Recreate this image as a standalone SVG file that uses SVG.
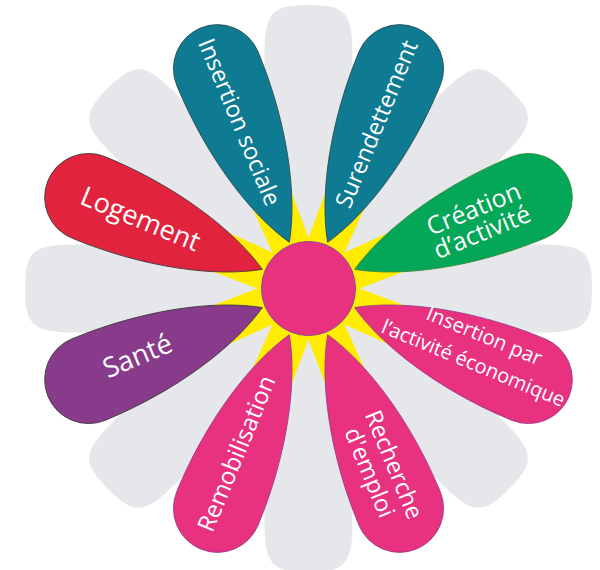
<svg xmlns="http://www.w3.org/2000/svg" width="600" height="570" viewBox="0 0 600 570">
<defs>
<style>
.grey{fill:#e6e7eb}
.star{fill:#ffec00}
.cp{stroke-width:0.8}
.teal{fill:#0e7b92;stroke:#2b4a50}
.red{fill:#e2233d;stroke:#3d3a3a}
.green{fill:#04a657;stroke:#3c8a3a}
.pink{fill:#e8317f;stroke:#9a3a8c}
.purple{fill:#883b8b;stroke:#3d3a3d}
.center{fill:#e8317f;stroke:#8a4a96;stroke-width:1}
.lbl{font-family:"Open Sans","Noto Sans","DejaVu Sans",sans-serif;fill:#ffffff;text-anchor:middle}
</style>
<path id="gp" d="M0,-44 H232 C276,-44 283.5,-37 283.5,0 C283.5,37 276,44 232,44 H0 Z"/>
<path id="cpath" d="M50,0 C90,-25 160,-44 238,-44 A44,44 0 0 1 238,44 C160,44 90,25 50,0 Z"/>
</defs>
<rect width="600" height="570" fill="#ffffff"/>
<g id="grey-petals" class="grey" transform="translate(308.5,288.5)">
<use href="#gp" transform="rotate(0)"/>
<use href="#gp" transform="rotate(45)"/>
<use href="#gp" transform="rotate(90)"/>
<use href="#gp" transform="rotate(135)"/>
<use href="#gp" transform="rotate(180)"/>
<use href="#gp" transform="rotate(225)"/>
<use href="#gp" transform="rotate(270)"/>
<use href="#gp" transform="rotate(315)"/>
</g>
<polygon id="star" class="star" transform="translate(308.5,288.5)" points="51,0 107.89,21.46 47.12,19.52 91.47,61.12 36.06,36.06 61.12,91.47 19.52,47.12 21.46,107.89 0,51 -21.46,107.89 -19.52,47.12 -61.12,91.47 -36.06,36.06 -91.47,61.12 -47.12,19.52 -107.89,21.46 -51,0 -107.89,-21.46 -47.12,-19.52 -91.47,-61.12 -36.06,-36.06 -61.12,-91.47 -19.52,-47.12 -21.46,-107.89 0,-51 21.46,-107.89 19.52,-47.12 61.12,-91.47 36.06,-36.06 91.47,-61.12 47.12,-19.52 107.89,-21.46"/>
<g id="connectors"></g>
<g id="node-insertion-sociale">
<use href="#cpath" class="cp teal" transform="translate(308.5,288.5) rotate(247.5)"/>
<text class="lbl" font-size="23.5" transform="translate(238.5,122.5) rotate(67.5)" y="7">Insertion sociale</text>
</g>
<g id="node-surendettement">
<use href="#cpath" class="cp teal" transform="translate(308.5,288.5) rotate(292.5)"/>
<text class="lbl" font-size="23.4" transform="translate(377.5,124.5) rotate(-67.5)" y="7">Surendettement</text>
</g>
<g id="node-creation-activite">
<use href="#cpath" class="cp green" transform="translate(308.5,288.5) rotate(337.5)"/>
<text class="lbl" font-size="25" transform="translate(474,210) rotate(-22.5)" y="7.5">Création</text>
<text class="lbl" font-size="25" transform="translate(482.5,233) rotate(-22.5)" y="7.5">d’activité</text>
</g>
<g id="node-insertion-activite-economique">
<use href="#cpath" class="cp pink" transform="translate(308.5,288.5) rotate(22.5)"/>
<text class="lbl" font-size="20.5" transform="translate(484,336.5) rotate(22.5)" y="6.2">Insertion par</text>
<text class="lbl" font-size="20" transform="translate(473,364) rotate(22.5)" y="6">l’activité économique</text>
</g>
<g id="node-recherche-emploi">
<use href="#cpath" class="cp pink" transform="translate(308.5,288.5) rotate(67.5)"/>
<text class="lbl" font-size="23.5" transform="translate(393,465) rotate(67.5)" y="7">Recherche</text>
<text class="lbl" font-size="23.5" transform="translate(368.5,473) rotate(67.5)" y="7">d'emploi</text>
</g>
<g id="node-remobilisation">
<use href="#cpath" class="cp pink" transform="translate(308.5,288.5) rotate(112.5)"/>
<text class="lbl" font-size="24" transform="translate(237.5,454) rotate(-67.5)" y="7.2">Remobilisation</text>
</g>
<g id="node-sante">
<use href="#cpath" class="cp purple" transform="translate(308.5,288.5) rotate(157.5)"/>
<text class="lbl" font-size="27.5" transform="translate(138,357) rotate(-22.5)" y="8.2">Santé</text>
</g>
<g id="node-logement">
<use href="#cpath" class="cp red" transform="translate(308.5,288.5) rotate(202.5)"/>
<text class="lbl" font-size="27" transform="translate(140,220) rotate(22.5)" y="8.1">Logement</text>
</g>
<circle id="center" class="center" cx="308.5" cy="288.5" r="47"/>
</svg>
